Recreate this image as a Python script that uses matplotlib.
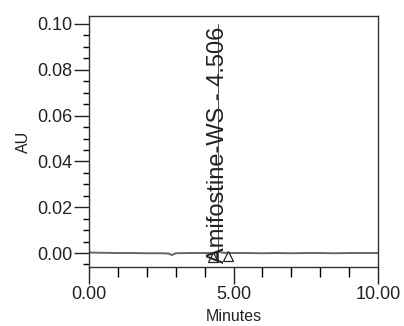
import matplotlib
matplotlib.use("Agg")
from matplotlib import pyplot as plt
from matplotlib.ticker import MultipleLocator

plt.rcParams['font.family'] = ['Liberation Sans', 'DejaVu Sans']

# chromatogram trace (minutes, AU)
times = [0.0, 0.5, 1.0, 1.5, 2.0, 2.5, 2.75, 2.87, 3.0, 3.5, 4.0, 4.3, 4.45, 4.506, 4.6, 4.8, 5.5, 6.0, 6.5, 7.0, 7.5, 8.0, 8.5, 9.0, 9.5, 10.0]
signal = [0.0002, 0.0001, 0.0000, 0.0000, -0.0001, -0.0001, -0.0002, -0.0009, -0.0001, 0.0000, 0.0000, 0.0000, 0.0003, 0.0006, 0.0002, 0.0000, 0.0000, -0.0001, 0.0000, -0.0001, 0.0000, 0.0000, -0.0001, 0.0000, 0.0000, 0.0000]

peak_name = "Amifostine-WS - 4.506"
peak_time = 4.506
marker_times = [4.29, 4.81]
marker_vals = [-0.0018, -0.0012]

fig = plt.figure(figsize=(4.04, 3.26), dpi=100)
ax = fig.add_axes([0.220, 0.181, 0.716, 0.770])

ax.plot(times, signal, color='#666666', lw=1.4)
ax.plot(marker_times, marker_vals, ls='none', marker='^', ms=7,
        mfc='white', mec='#222222', mew=0.9)

# peak label, drawn rotated with a thin marker line through it
ax.plot([peak_time - 0.05, peak_time - 0.05], [-0.003, 0.100], color='#333333', lw=0.6)
ax.text(peak_time - 0.05, -0.0045, peak_name, rotation=90, ha='center', va='bottom',
        fontsize=17, color='#222222')

ax.set_xlim(0, 10)
ax.set_ylim(-0.0061, 0.1035)

ax.xaxis.set_major_locator(MultipleLocator(5))
ax.xaxis.set_minor_locator(MultipleLocator(1))
ax.yaxis.set_major_locator(MultipleLocator(0.02))
ax.yaxis.set_minor_locator(MultipleLocator(0.005))
ax.xaxis.set_major_formatter(plt.FormatStrFormatter('%.2f'))
ax.yaxis.set_major_formatter(plt.FormatStrFormatter('%.2f'))

ax.tick_params(axis='x', which='major', direction='out', length=12, width=1, pad=2,
               labelsize=13, colors='#222222')
ax.tick_params(axis='x', which='minor', direction='out', length=7, width=1)
ax.tick_params(axis='y', which='major', direction='out', length=11, width=1, pad=1,
               labelsize=13, colors='#222222')
ax.tick_params(axis='y', which='minor', direction='out', length=4, width=1)

for s in ax.spines.values():
    s.set_color('#333333')
    s.set_linewidth(1.0)

ax.set_xlabel("Minutes", fontsize=11.5, color='#222222', labelpad=4)
ax.set_ylabel("AU", fontsize=11.5, color='#222222', labelpad=4)

fig.savefig("out.png", dpi=100)
